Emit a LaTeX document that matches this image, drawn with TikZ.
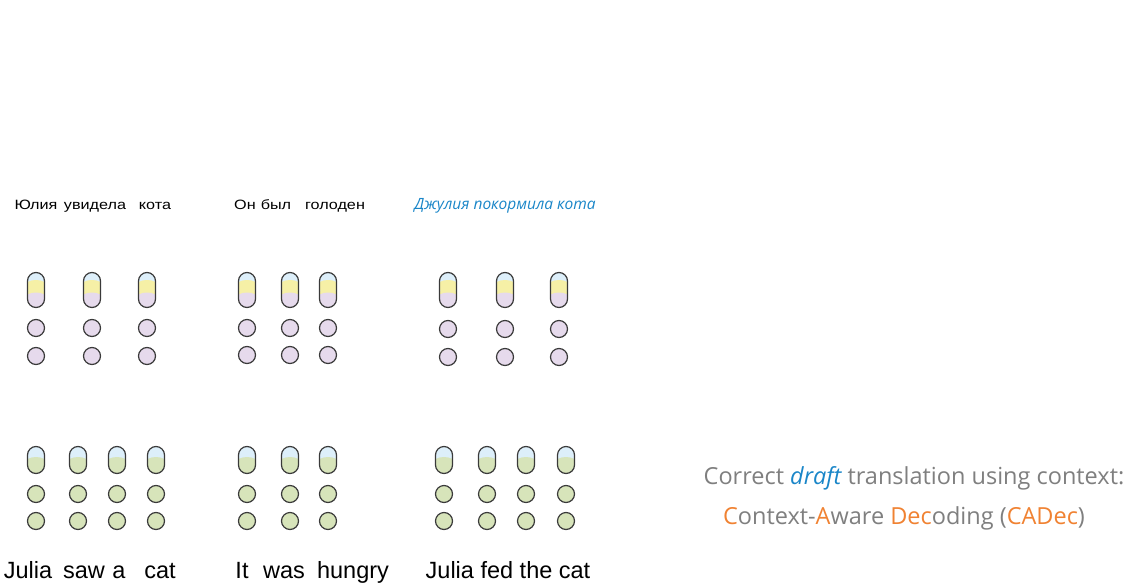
\documentclass[tikz,border=0pt]{standalone}
\usepackage{fontspec}
\setmainfont{Liberation Sans}
\newfontfamily\notefont{Open Sans}
\usepackage{tikz}

\definecolor{rimgray}{HTML}{3A3A3A}
\definecolor{capblue}{HTML}{DDEFFA}
\definecolor{capyellow}{HTML}{F6F0A6}
\definecolor{lilac}{HTML}{E6DAEC}
\definecolor{sage}{HTML}{D7E4BA}
\definecolor{inkblue}{HTML}{1A86C8}
\definecolor{notegray}{HTML}{7F7F7F}
\definecolor{notorange}{HTML}{F08232}

\tikzset{
  ctxpill/.style={draw=rimgray, line width=1.2pt, rectangle, rounded corners=8.5pt,
    minimum width=17pt, minimum height=35pt, inner sep=0pt,
    path picture={
      \fill[capblue] (path picture bounding box.south west) rectangle (path picture bounding box.north east);
      \fill[capyellow] ([yshift=4pt]path picture bounding box.center) ellipse [x radius=11pt, y radius=6pt];
      \fill[capyellow] ([yshift=4pt]path picture bounding box.west) rectangle (path picture bounding box.south east);
      \fill[lilac] ([yshift=-8.5pt]path picture bounding box.center) ellipse [x radius=11pt, y radius=6pt];
      \fill[lilac] ([yshift=-8.5pt]path picture bounding box.west) rectangle (path picture bounding box.south east);
    }},
  srcpill/.style={draw=rimgray, line width=1.2pt, rectangle, rounded corners=8.5pt,
    minimum width=17pt, minimum height=27pt, inner sep=0pt,
    path picture={
      \fill[capblue] (path picture bounding box.south west) rectangle (path picture bounding box.north east);
      \fill[sage] ([yshift=-3pt]path picture bounding box.center) ellipse [x radius=11pt, y radius=6pt];
      \fill[sage] ([yshift=-3pt]path picture bounding box.west) rectangle (path picture bounding box.south east);
    }},
  ctxdot/.style={circle, draw=rimgray, line width=1.2pt, fill=lilac, minimum size=17pt, inner sep=0pt},
  srcdot/.style={circle, draw=rimgray, line width=1.2pt, fill=sage, minimum size=17pt, inner sep=0pt},
  ruword/.style={inner sep=0pt, anchor=base, xscale=1.2, font=\fontsize{13.5}{16}\selectfont},
  enword/.style={inner sep=0pt, anchor=base, font=\fontsize{23.5}{28}\selectfont},
  note/.style={inner sep=0pt, text=notegray, font=\notefont\fontsize{23.5}{28}\selectfont}
}

\begin{document}
\begin{tikzpicture} [x = 1pt, y = -1pt]
\useasboundingbox (0, 0) rectangle (1123, 588);
% context sentences (Russian)
\node[ruword] (ru1a) at (36, 209){Юлия};
\node[ruword] (ru1b) at (95, 209){увидела};
\node[ruword] (ru1c) at (155, 209){кота};
\node[ruword] (ru2a) at (245, 209){Он};
\node[ruword] (ru2b) at (276, 209){был};
\node[ruword] (ru2c) at (335, 209){голоден};
\node[inner sep = 0pt, anchor = base, text = inkblue, font = \notefont\itshape\fontsize{15.5}{18}\selectfont] (ru3) at (505, 209){Джулия покормила кота};
% context pills
\node[ctxpill] (c1p1) at (36, 290){};
\node[ctxpill] (c1p2) at (92, 290){};
\node[ctxpill] (c1p3) at (147, 290){};
\node[ctxpill] (c2p1) at (247, 290){};
\node[ctxpill] (c2p2) at (290, 290){};
\node[ctxpill] (c2p3) at (328, 290){};
\node[ctxpill] (c3p1) at (448, 290){};
\node[ctxpill] (c3p2) at (505, 290){};
\node[ctxpill] (c3p3) at (559, 290){};
% context dots
\node[ctxdot] (c1u1) at (36, 328){};
\node[ctxdot] (c1u2) at (92, 328){};
\node[ctxdot] (c1u3) at (147, 328){};
\node[ctxdot] (c2u1) at (247, 328){};
\node[ctxdot] (c2u2) at (290, 328){};
\node[ctxdot] (c2u3) at (328, 328){};
\node[ctxdot] (c3u1) at (448, 329){};
\node[ctxdot] (c3u2) at (505, 329){};
\node[ctxdot] (c3u3) at (559, 329){};
\node[ctxdot] (c1l1) at (36, 356){};
\node[ctxdot] (c1l2) at (92, 356){};
\node[ctxdot] (c1l3) at (147, 356){};
\node[ctxdot] (c2l1) at (247, 355){};
\node[ctxdot] (c2l2) at (290, 355){};
\node[ctxdot] (c2l3) at (328, 355){};
\node[ctxdot] (c3l1) at (448, 357){};
\node[ctxdot] (c3l2) at (505, 357){};
\node[ctxdot] (c3l3) at (559, 357){};
% source pills
\node[srcpill] (s1p1) at (36, 460){};
\node[srcpill] (s1p2) at (78, 460){};
\node[srcpill] (s1p3) at (117, 460){};
\node[srcpill] (s1p4) at (156, 460){};
\node[srcpill] (s2p1) at (247, 460){};
\node[srcpill] (s2p2) at (290, 460){};
\node[srcpill] (s2p3) at (328, 460){};
\node[srcpill] (s3p1) at (444, 460){};
\node[srcpill] (s3p2) at (487, 460){};
\node[srcpill] (s3p3) at (526, 460){};
\node[srcpill] (s3p4) at (566, 460){};
% source dots
\node[srcdot] (s1u1) at (36, 494){};
\node[srcdot] (s1u2) at (78, 494){};
\node[srcdot] (s1u3) at (117, 494){};
\node[srcdot] (s1u4) at (156, 494){};
\node[srcdot] (s2u1) at (247, 494){};
\node[srcdot] (s2u2) at (290, 494){};
\node[srcdot] (s2u3) at (328, 494){};
\node[srcdot] (s3u1) at (444, 494){};
\node[srcdot] (s3u2) at (487, 494){};
\node[srcdot] (s3u3) at (526, 494){};
\node[srcdot] (s3u4) at (566, 494){};
\node[srcdot] (s1l1) at (36, 521){};
\node[srcdot] (s1l2) at (78, 521){};
\node[srcdot] (s1l3) at (117, 521){};
\node[srcdot] (s1l4) at (156, 521){};
\node[srcdot] (s2l1) at (247, 521){};
\node[srcdot] (s2l2) at (290, 521){};
\node[srcdot] (s2l3) at (328, 521){};
\node[srcdot] (s3l1) at (444, 521){};
\node[srcdot] (s3l2) at (487, 521){};
\node[srcdot] (s3l3) at (526, 521){};
\node[srcdot] (s3l4) at (566, 521){};
% English words
\node[enword] (en1a) at (28, 578){Julia};
\node[enword] (en1b) at (84, 578){saw};
\node[enword] (en1c) at (119, 578){a};
\node[enword] (en1d) at (160, 578){cat};
\node[enword] (en2a) at (242, 578){It};
\node[enword] (en2b) at (284, 578){was};
\node[enword] (en2c) at (353, 578){hungry};
\node[enword] (en3) at (508, 578){Julia fed the cat};
% note
\node[note] (note1) at (914, 478){Correct {\color{inkblue}\itshape draft} translation using context:};
\node[note] (note2) at (904, 518){{\color{notorange}C}ontext-{\color{notorange}A}ware {\color{notorange}Dec}oding ({\color{notorange}CADec})};
\end{tikzpicture}
\end{document}
